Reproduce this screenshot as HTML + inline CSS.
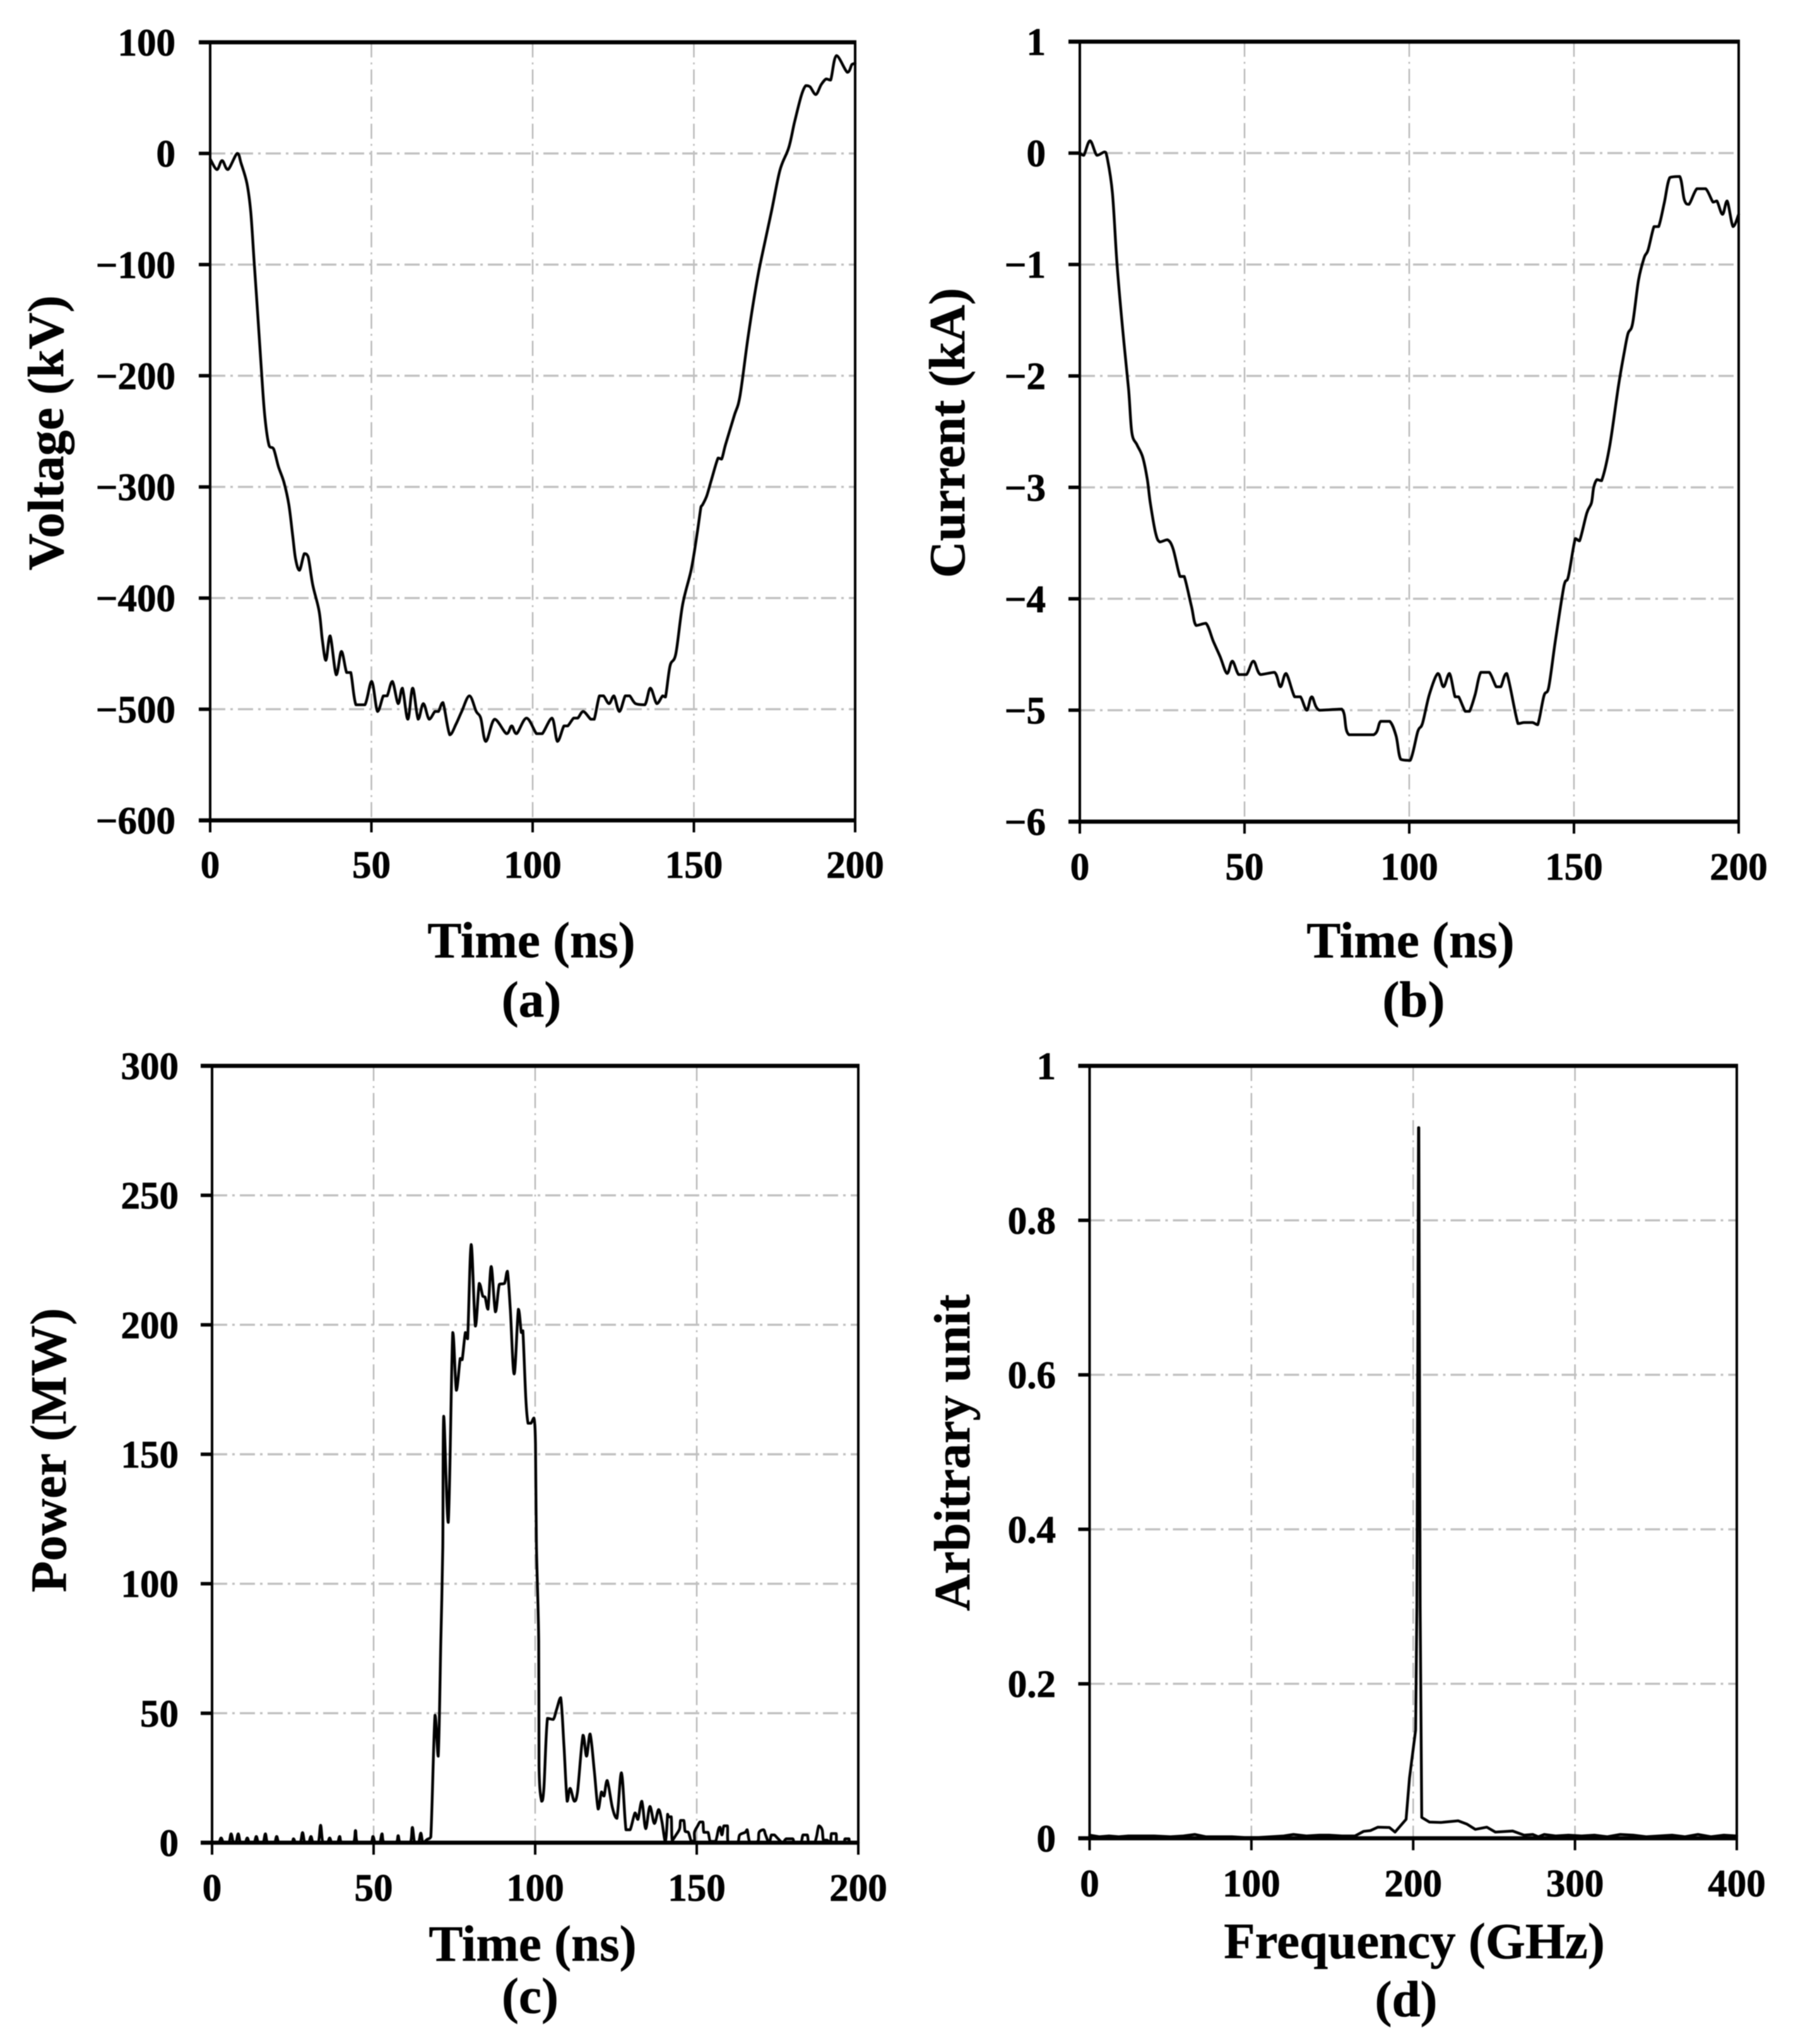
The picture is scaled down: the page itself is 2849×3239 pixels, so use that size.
<!DOCTYPE html>
<html lang="en">
<head>
<meta charset="utf-8">
<title>Voltage, current, power and frequency spectrum</title>
<style>
html,body{margin:0;padding:0;background:#fff}
svg{display:block;filter:blur(0.7px)}
text{font-family:"Liberation Serif","Times New Roman",serif;font-weight:bold;fill:#000}
.title{font-size:81px;stroke:#000;stroke-width:0.6}
.tick{font-size:61px;stroke:#000;stroke-width:0.8}
.grid-v{stroke:#b8b8b8;stroke-width:2.4;stroke-dasharray:24 8 3 8;fill:none}
.grid-h{stroke:#c0c0c0;stroke-width:3.4;stroke-dasharray:24 8 4 8;fill:none}
.frame-h{stroke:#000;stroke-width:6.5;fill:none}
.frame-v{stroke:#000;stroke-width:4;fill:none}
.mark-y{stroke:#000;stroke-width:5.5;fill:none}
.mark-x{stroke:#000;stroke-width:4;fill:none}
.trace{stroke:#000;stroke-width:4.4;fill:none;stroke-linejoin:round;stroke-linecap:round}
</style>
</head>
<body>
<svg id="figure" xmlns="http://www.w3.org/2000/svg" width="2849" height="3239" viewBox="0 0 2849 3239">
  <rect x="0" y="0" width="2849" height="3239" fill="#fff"/>

  <g id="panel-a"></g>
  <text class="title" transform="translate(100,686) rotate(-90)" text-anchor="middle">Voltage (kV)</text>
  <text class="title" x="842" y="1517" text-anchor="middle">Time (ns)</text>
  <text class="title" x="842" y="1611" text-anchor="middle">(a)</text>

  <g id="panel-b"></g>
  <text class="title" transform="translate(1528,686) rotate(-90)" text-anchor="middle">Current (kA)</text>
  <text class="title" x="2235" y="1517" text-anchor="middle">Time (ns)</text>
  <text class="title" x="2240" y="1611" text-anchor="middle">(b)</text>

  <g id="panel-c"></g>
  <text class="title" transform="translate(104,2298) rotate(-90)" text-anchor="middle">Power (MW)</text>
  <text class="title" x="844" y="3107" text-anchor="middle">Time (ns)</text>
  <text class="title" x="840" y="3190" text-anchor="middle">(c)</text>

  <g id="panel-d"></g>
  <text class="title" transform="translate(1536,2302) rotate(-90)" text-anchor="middle">Arbitrary unit</text>
  <text class="title" x="2241" y="3103" text-anchor="middle">Frequency (GHz)</text>
  <text class="title" x="2228" y="3195" text-anchor="middle">(d)</text>
</svg>

<script>
// ---------- Panel (a): voltage ----------
var timeA = [
  0,2.1,3.7,5.5,8.4,9.6,11.4,12.6,13.7,14.9,
  16,17,18.3,19.7,21.2,22.9,24.4,25.6,26.5,27.7,
  29.2,30.4,31.8,33.8,34.8,35.9,37.2,39.1,40.7,42.3,
  43.6,45.2,48,50.1,51.9,53.7,54.9,56.5,58.3,59.6,
  61.3,62.8,64.5,66.1,67.9,69.7,70.8,72.2,74.3,76.3,
  78,80.4,82.5,83.9,85.5,88.2,91.9,93.5,95,98.1,
  101.2,103,106,107.7,109.7,110.9,112.7,114,115.7,118,
  119.1,120.7,122,123.7,125.2,126.9,128.7,130.1,131.9,134.8,
  136.5,138.5,140.3,141.2,142.6,144.4,146.5,149.2,151,152.2,
  152.7,154,155.4,157.5,158.6,159.8,162.5,164.3,166.9,169.6,
  171.4,174,176.7,179.4,181.2,183.3,184.7,186,187.8,189.5,
  191,192.4,194.2,197.6,199,200
];
var voltageA = [
  -5,-14.5,-6.4,-14.5,0,-9,-27,-53,-100,-151,
  -200,-238,-263,-266,-282,-296,-316,-344,-365,-375,
  -360,-363,-388,-412,-438,-456,-434,-469,-448,-467,
  -467,-496,-496,-475,-502,-488,-488,-475,-495,-481,
  -509,-481,-509,-495,-509,-502,-502,-494,-523,-513,
  -502,-488,-502,-508,-529,-509,-522,-515,-522,-508,
  -522,-522,-508,-529,-515,-515,-508,-508,-502,-509,
  -509,-488,-488,-495,-488,-502,-488,-488,-495,-496,
  -481,-495,-488,-489,-461,-450,-406,-374,-342,-318,
  -316,-308,-294,-274,-275,-262,-236,-218,-163,-114,
  -88,-53,-15,5,28,52,61,60,53,62,
  67,66,88,73,80,81
];
var xTicksA = [0,50,100,150,200];
var yTicksA = [100,0,-100,-200,-300,-400,-500,-600];

// ---------- Panel (b): current ----------
var timeB = [
  0,1.2,3.1,5.2,7.5,8.3,9.9,11.3,13,14.8,
  15.8,17.4,19.1,20.5,21.4,23,24.3,26.6,28.3,30.4,
  31.7,33.9,35.3,38.3,40.5,42.6,44.7,46.3,48.2,50.6,
  52.7,54.8,59.1,60.9,62.6,65.2,67,68.9,70.4,72.7,
  79.5,81.7,89.2,91.3,94.1,96,97.4,100.3,102.6,104,
  106.1,108.7,110.4,112.2,113.9,115,117,118.3,120,121.7,
  124.3,126.4,127.8,129.6,133,134.8,137.4,139,140.9,142.3,
  144.3,147,148.3,150.4,151.7,153.9,155.3,156,157,158.4,
  160.9,163.5,165.2,166.4,167.8,169.6,171.3,172.5,174.3,175.7,
  177.4,179.1,182.1,183.5,184.9,187.3,190,192.2,193.4,195.1,
  196.5,198.3,200
];
var currentB = [
  0,-0.02,0.11,-0.02,0.01,-0.04,-0.36,-1,-1.58,-2.12,
  -2.51,-2.62,-2.73,-2.93,-3.14,-3.41,-3.49,-3.47,-3.55,-3.8,
  -3.8,-4.07,-4.24,-4.22,-4.38,-4.52,-4.67,-4.56,-4.68,-4.68,
  -4.56,-4.68,-4.66,-4.79,-4.67,-4.88,-4.88,-5,-4.88,-5,
  -4.99,-5.22,-5.22,-5.1,-5.1,-5.23,-5.44,-5.45,-5.19,-5.12,
  -4.86,-4.67,-4.79,-4.67,-4.88,-4.88,-5.01,-5.01,-4.86,-4.66,
  -4.66,-4.79,-4.79,-4.67,-5.12,-5.11,-5.11,-5.13,-4.87,-4.8,
  -4.39,-3.88,-3.8,-3.46,-3.48,-3.23,-3.14,-3,-2.93,-2.94,
  -2.62,-2.09,-1.8,-1.62,-1.53,-1.14,-0.94,-0.87,-0.66,-0.66,
  -0.45,-0.22,-0.21,-0.42,-0.46,-0.32,-0.32,-0.44,-0.43,-0.55,
  -0.43,-0.66,-0.55
];
var xTicksB = [0,50,100,150,200];
var yTicksB = [1,0,-1,-2,-3,-4,-5,-6];

// ---------- Panel (c): power ----------
var timeC = [
  0,2,2.8,3.6,5.2,5.9,6.6,7.4,8.1,8.8,
  10.2,10.9,11.6,13,13.7,14.4,15.8,16.5,17.2,19.3,
  20,20.9,24.5,25.2,25.9,27.3,28,28.7,29.9,30.6,
  31.3,32.9,33.6,34.3,35.7,36.4,37.1,38.8,39.5,40.2,
  43.7,44.4,45.1,49,49.8,50.5,51.9,52.6,53.3,56.9,
  57.6,58.3,61.3,62,62.7,63.9,64.6,65.3,66.6,67.7,
  69,70,70.8,71.4,71.7,73.1,74.5,75.6,76.8,77.4,
  78.4,79.1,80.2,81.5,82.7,83.8,84.5,85.4,86.4,87.7,
  88.9,90.5,91.4,92.3,93.5,94.8,95.7,96.2,97.1,97.8,
  98.7,99.6,100.1,100.4,101.1,101.2,102,102.7,103.8,105.6,
  106.6,107.9,108.9,109.9,110.8,112.1,113.1,114.8,115.9,117,
  118.3,119.5,120.5,121.3,122.3,123.9,125.3,126.7,128.1,129.4,
  130.9,131.8,133,134.2,135.5,136.9,138.2,139.2,140.3,141,
  141.2,142.1,142.4,143.6,144.7,145,146,146.4,147.4,148.3,
  149.3,149.3,150.3,151,151.9,152.2,153.5,154.2,155.8,156.7,
  157.2,157.8,158.4,159.5,159.8,162.6,163.3,165,165.6,166.5,
  168.9,169.3,170.7,171.3,172.4,173.1,174,175.2,176.6,177.7,
  179.7,180.2,182.2,182.9,184.2,184.7,186.4,187.1,187.8,188.8,
  189.2,190.3,191.4,191.7,193.1,193.4,195.5,195.9,197.1,197.4,
  200
];
var powerC = [
  0,0,1.8,0,0,3.4,0,0,3.4,0,
  0,1.8,0,0,2.4,0,0,3.4,0,0,
  2.4,0,0,1.5,0,0,3.9,0,0,2.4,
  0,0,6.7,0,0,1.8,0,0,2.4,0,
  0,4.7,0,0,2.4,0,0,3.4,0,0,
  2.7,0,0,5.9,0,0,3.7,0,1.3,2.2,
  49.2,33.4,78,114,164.7,123.7,197,174.7,187,186.5,
  197,194.6,231,199.5,216,211,210.7,206,222.5,205,
  215.6,216,220.7,206,181,206,197,197.7,171.5,162,
  162,164,154,114.7,78,29.4,16,21,48,47.6,
  51.3,56,37.5,16,21,16,19.6,41.5,33.4,42,
  27.7,13,19.6,18,24,13.5,9.4,27,5,5,
  11.5,9,16,5.4,14,7.4,12.8,8.3,0.5,11,
  10,10,1,3,5.4,8.6,8.6,4.4,4,0.6,
  0.6,4,6.5,8,8,4,4,0.5,0.5,5,
  6,3,6.5,6.5,0,0,3,4,5,0,
  0.5,4,5,3,0,3,3,1.5,0,1.5,
  1.5,0,0,3,3,0,0,2.5,6.5,5,
  1,1,0,3.5,3.5,0,0,1.5,1.5,0,
  0
];
var xTicksC = [0,50,100,150,200];
var yTicksC = [300,250,200,150,100,50,0];

// ---------- Panel (d): spectrum ----------
var freqD = [
  0,6,12,18,24,32,40,50,58,65,
  72,80,88,96,104,112,120,126,134,142,
  148,156,164,169.4,173.6,178.2,185.3,188.8,195.6,197.7,
  201.5,202.3,203.3,203.5,204.3,205.3,210,217.2,227.8,233.1,
  238.4,245.5,250.8,261.5,268.6,273.9,277.4,281,288,296,
  304,312,320,328,336,344,352,360,368,376,
  384,392,400
];
var amplitudeD = [
  0.004,0.002,0.003,0.002,0.003,0.003,0.003,0.002,0.003,0.005,
  0.002,0.002,0.002,0.001,0.001,0.002,0.003,0.005,0.003,0.004,
  0.004,0.003,0.003,0.009,0.01,0.0144,0.014,0.008,0.0246,0.078,
  0.14,0.3,0.92,0.92,0.3,0.027,0.021,0.0205,0.0226,0.0185,
  0.0115,0.0144,0.008,0.0094,0.004,0.005,0.002,0.005,0.003,0.004,
  0.003,0.004,0.002,0.005,0.004,0.002,0.003,0.004,0.002,0.005,
  0.002,0.004,0.003
];
var xTicksD = [0,100,200,300,400];
var yTicksD = [1,0.8,0.6,0.4,0.2,0];

var SVG_NS = 'http://www.w3.org/2000/svg';

function line(parent, cls, x1, y1, x2, y2) {
  var el = document.createElementNS(SVG_NS, 'line');
  el.setAttribute('class', cls);
  el.setAttribute('x1', x1);
  el.setAttribute('y1', y1);
  el.setAttribute('x2', x2);
  el.setAttribute('y2', y2);
  parent.appendChild(el);
  return el;
}

function label(parent, cls, x, y, anchor, str) {
  var el = document.createElementNS(SVG_NS, 'text');
  el.setAttribute('class', cls);
  el.setAttribute('x', x);
  el.setAttribute('y', y);
  el.setAttribute('text-anchor', anchor);
  el.textContent = str;
  parent.appendChild(el);
  return el;
}

function linearPath(px, py) {
  var d = 'M' + px[0].toFixed(1) + ' ' + py[0].toFixed(1);
  for (var i = 1; i < px.length; i++) {
    d += 'L' + px[i].toFixed(1) + ' ' + py[i].toFixed(1);
  }
  return d;
}

function clamp(v, a, b) {
  return Math.min(Math.max(v, Math.min(a, b)), Math.max(a, b));
}

function smoothPath(px, py) {
  var d = 'M' + px[0].toFixed(1) + ' ' + py[0].toFixed(1);
  for (var i = 0; i < px.length - 1; i++) {
    var a = Math.max(i - 1, 0), b = Math.min(i + 2, px.length - 1);
    var c1x = px[i] + (px[i + 1] - px[a]) / 6;
    var c1y = clamp(py[i] + (py[i + 1] - py[a]) / 6, py[i], py[i + 1]);
    var c2x = px[i + 1] - (px[b] - px[i]) / 6;
    var c2y = clamp(py[i + 1] - (py[b] - py[i]) / 6, py[i], py[i + 1]);
    d += 'C' + c1x.toFixed(1) + ' ' + c1y.toFixed(1) + ' ' + c2x.toFixed(1) + ' ' + c2y.toFixed(1) + ' ' + px[i + 1].toFixed(1) + ' ' + py[i + 1].toFixed(1);
  }
  return d;
}

function drawPanel(id, box, xVals, yVals, xTicks, yTicks, smooth) {
  var g = document.getElementById(id);
  var xMin = xTicks[0], xMax = xTicks[xTicks.length - 1];
  var yMax = Math.max.apply(null, yTicks), yMin = Math.min.apply(null, yTicks);
  function sx(v) { return box.left + (v - xMin) / (xMax - xMin) * (box.right - box.left); }
  function sy(v) { return box.top + (yMax - v) / (yMax - yMin) * (box.bottom - box.top); }

  xTicks.forEach(function (t) {
    if (t !== xMin && t !== xMax) {
      var gv = line(g, 'grid-v', sx(t), box.top, sx(t), box.bottom);
      
      
    }
  });
  yTicks.forEach(function (t) {
    if (t !== yMin && t !== yMax) {
      var gh = line(g, 'grid-h', box.left, sy(t), box.right, sy(t));
      
      
    }
  });

  var frameTop = line(g, 'frame-h', box.left - 18, box.top, box.right + 2, box.top);
  
  
  var frameBottom = line(g, 'frame-h', box.left - 18, box.bottom, box.right + 2, box.bottom);
  
  
  var frameLeft = line(g, 'frame-v', box.left, box.top, box.left, box.bottom);
  
  
  var frameRight = line(g, 'frame-v', box.right, box.top, box.right, box.bottom);
  
  

  xTicks.forEach(function (t) {
    var m = line(g, 'mark-x', sx(t), box.bottom, sx(t), box.bottom + 19);
    
    
    var l = label(g, 'tick', sx(t), box.xLabelY, 'middle', String(t));
    
    
  });
  yTicks.forEach(function (t) {
    var m = line(g, 'mark-y', box.left - 18, sy(t), box.left, sy(t));
    
    
    var l = label(g, 'tick', box.yLabelX, sy(t) + 21, 'end', String(t).replace('-', '\u2212'));
    
    
  });

  var px = xVals.map(sx), py = yVals.map(sy);
  var trace = document.createElementNS(SVG_NS, 'path');
  trace.setAttribute('class', 'trace');
  trace.setAttribute('d', smooth ? smoothPath(px, py) : linearPath(px, py));
  
  
  g.appendChild(trace);
}

drawPanel('panel-a', {left: 333, right: 1355, top: 67, bottom: 1300, xLabelY: 1391, yLabelX: 278}, timeA, voltageA, xTicksA, yTicksA, true);
drawPanel('panel-b', {left: 1711, right: 2755, top: 66, bottom: 1302, xLabelY: 1394, yLabelX: 1657}, timeB, currentB, xTicksB, yTicksB, true);
drawPanel('panel-c', {left: 336, right: 1360, top: 1689, bottom: 2920, xLabelY: 3012, yLabelX: 283}, timeC, powerC, xTicksC, yTicksC, true);
drawPanel('panel-d', {left: 1726.5, right: 2752, top: 1689, bottom: 2913, xLabelY: 3005, yLabelX: 1673}, freqD, amplitudeD, xTicksD, yTicksD, false);
</script>
</body>
</html>
